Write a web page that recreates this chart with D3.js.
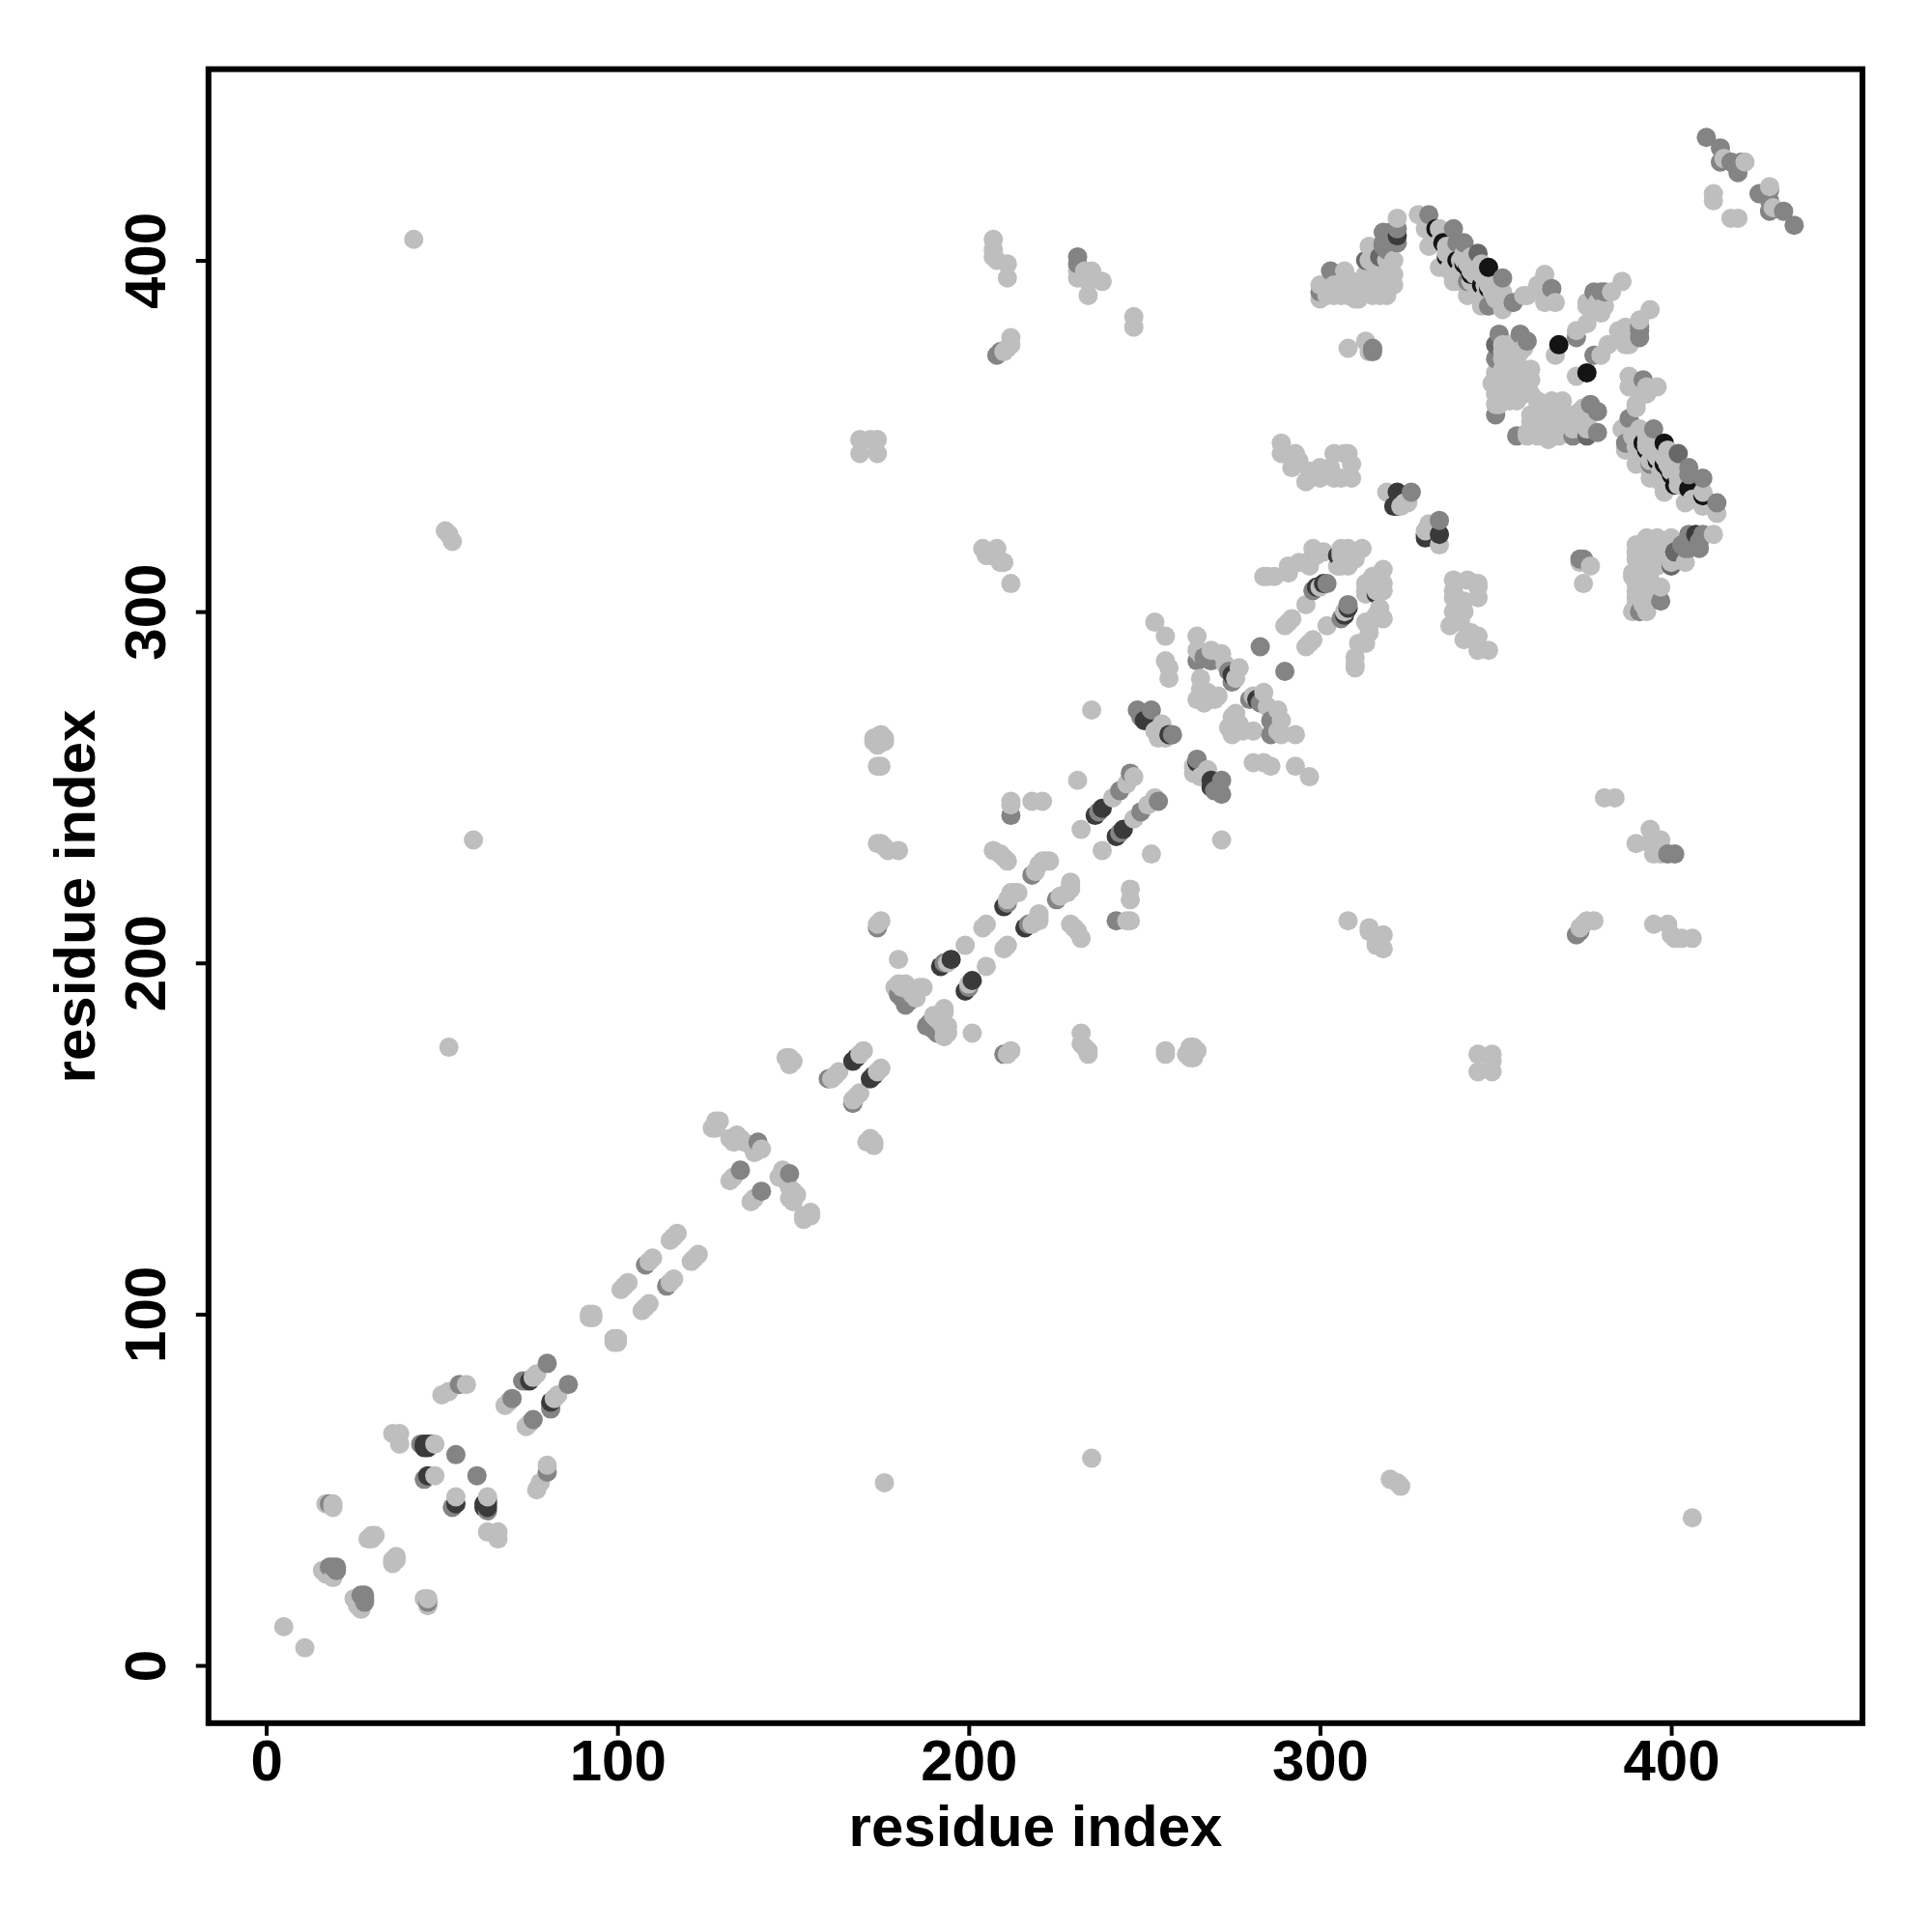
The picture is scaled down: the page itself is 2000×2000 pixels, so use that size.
<!DOCTYPE html>
<html><head><meta charset="utf-8">
<style>html,body{margin:0;padding:0;background:#fff}svg{display:block}text{font-family:"Liberation Sans",Arial,sans-serif;font-weight:700;fill:#000}</style>
<script src="https://cdn.jsdelivr.net/npm/d3@7"></script>
</head><body><svg id="c" width="2000" height="2000"></svg>
<script>
const tickLabels=[0,100,200,300,400];
const axisTitle="residue index";
const shadeNames=["light","mid","dim","dark","black"];
const shadeColors=["#bebebe","#848484","#686868","#3a3a3a","#141414"];
const lightPairs=[[5,11],[17,46],[19,46],[19,45],[29,36],[30,36],[30,37],[31,37],[16,27],[17,26],[18,26],[19,25],[17,27],[36,66],[38,66],[38,63],[48,63],[48,54],[50,77],[52,78],[57,80],[68,74],[69,75],[76,82],[77,83],[92,99],[93,99],[92,100],[93,100],[101,107],[102,108],[103,109],[109,115],[110,116],[115,121],[116,122],[117,123],
[127,153],[128,153],[128,155],[129,155],[128,154],[132,150],[133,149],[134,151],[135,150],[136,149],[138,148],[139,147],[141,147],[139,146],[132,138],[133,139],[148,173],[149,173],[150,172],[149,171],[169,174],[170,175],[161,167],[162,168],[163,169],[175,212],[174,211],[180,201],
[179,193],[180,194],[181,193],[182,194],[183,192],[185,192],[186,193],[187,193],[184,191],[185,190],[194,200],[199,205],[204,210],[205,211],[211,218],[212,219],[213,220],[214,220],[212,220],[219,226],[220,228],[221,229],[222,229],[223,229],
[218,246],[221,246],[212,245],[212,246],[231,252],[232,238],[235,272],[241,247],[245,251],[247,253],[253,266],[255,268],[256,264],[254,264],[255,265],[253,297],[256,293],[256,286],[257,284],[257,281],
[265,293],[265,289],[266,288],[269,289],[272,288],[273,285],[276,281],[277,284],[266,281],[266,278],[265,275],[267,274],[270,275],[268,277],[271,276],[290,296],[291,297],[292,298],[296,302],[300,307],
[284,310],[287,310],[291,311],[291,313],[294,314],[296,314],[297,313],[298,318],[299,316],[301,317],[285,310],[306,318],[306,316],[306,317],[308,318],[310,317],[312,318],[306,313],[308,313],[310,315],[305,313],
[319,334],[323,330],[325,331],[324,331],[308,375],[313,377],[314,374],
[322,412],[314,404],[314,400],[321,400],[321,396],[321,393],[317,396],[317,390],[313,392],[311,389],[310,389],[310,392],[307,397],[300,393],[300,389],[304,390],[306,390],[306,392],[304,393],[313,396],[309,394],[315,392],[319,390],[308,390],[302,390],
[302,392],[305,393],[307,391],[311,392],[312,390],[315,390],[315,395],[318,393],[319,395],[316,398],[320,398],[319,400],
[328,413],[330,409],[334,409],[334,405],[337,398],[340,397],[340,394],[341,402],[344,398],[345,391],[352,391],[352,386],[358,390],[359,390],[362,393],[364,396],[364,393],[364,389],[367,388],[364,388],[332,406],[336,404],[343,394],[349,391],[348,393],[341,394],[337,397],[336,402],[340,400],[341,400],[342,399],[343,397],[344,396],[347,393],[346,399],
[331,404],[334,398],[338,394],[342,390],[346,387],[337,404],[338,402],[343,401],[346,396],[348,395],[350,393],[347,390],[350,389],
[350,359],[351,359],[350,362],[352,360],[354,360],[356,360],[358,362],[360,362],[349,365],[351,365],[353,365],[355,365],[357,365],[359,365],[360,366],[350,368],[352,369],[354,368],[356,368],[358,368],[360,369],[352,372],[354,373],[356,373],[357,374],[352,376],[354,376],[358,375],[352,374],[354,362],[356,364],
[351,362],[353,362],[355,362],[357,362],[351,367],[353,367],[355,367],[357,367],[359,367],[352,364],[354,371],[356,371],
[367,373],[373,380],[376,382],[376,388],[376,387],[377,386],[379,386],[379,388],[383,391],[386,394],[381,387],[380,385],
[42,406],[51,323],[52,322],[53,320],[59,235],[52,176],[169,349],[172,349],[174,349],[169,345],[174,345],[173,264],[174,264],[176,264],[173,263],[174,262],[175,265],[176,263],[174,256],[175,256],[174,234],[175,234],[176,233],[177,232],[180,232],
[207,406],[207,403],[207,401],[208,400],[211,399],[211,395],[210,374],[211,375],[212,376],[212,378],[231,397],[231,395],[233,397],[234,394],[234,390],[238,394],[235,397],[247,384],[247,381],
[204,318],[208,318],[206,316],[209,314],[210,314],[212,308],[207,317],[205,316],[207,232],[209,231],[211,229],[210,230],
[289,348],[289,345],[293,345],[292,341],[297,340],[296,337],[300,341],[300,338],[304,338],[304,345],[308,345],[309,342],[309,338],[306,338],[303,341],[307,345],[294,343],
[412,417],[412,419],[415,429],[421,428]];
const midPairs=[[18,46],[18,28],[19,28],[20,28],[20,27],[44,63],[45,53],[54,60],[55,80],[73,81],[74,81],[80,86],[70,76],[108,114],[135,141],[140,149],[160,167],[174,210],[180,191],[181,190],[182,188],[183,189],[184,190],[193,200],[211,217],[218,225],[212,242],[208,373],[209,374],[231,401],[231,399],[237,243],[243,249],[246,254],[248,272],[249,270],[252,272],[258,265],[265,286],[267,287],[269,286],[274,283],[275,280],[283,290],[298,306],[302,308],[315,374],[315,375],[319,406],[319,403],[320,408],[322,409],[322,405],[318,408],[318,405],[318,404],[303,397],[300,391],[326,334],[331,413],[338,409],[339,405],[341,405],[342,394],[352,395],[366,392],[355,388],[348,387],[350,356],[350,372],[351,379],[357,379],[359,377],[373,378],[378,391],[380,391],[381,391],[410,435],[414,432],[414,428],[417,428],[419,425],[420,428]];
const dimPairs=[[313,400],[317,401],[345,402],[350,376]];
const darkPairs=[[45,63],[46,63],[47,63],[45,62],[46,62],[46,54],[75,81],[167,172],[168,173],[192,199],[195,201],[210,216],[236,242],[238,244],[250,269],[252,269],[257,265],[275,282],[299,307],[301,308],[321,330],[322,330],[322,334],[305,316],[322,407]];
const blackPairs=[[333,409],[335,405],[336,401],[339,400],[341,399],[342,398],[343,396],[346,393],[348,392],[348,398],[368,376]];
const pairGroups=[lightPairs,midPairs,dimPairs,darkPairs,blackPairs];

const W=2000,H=2000,frame={l:215.8,r:1928,t:71.6,b:1783.8};
const x=d3.scaleLinear().domain([-16.44,454.44]).range([frame.l,frame.r]);
const y=d3.scaleLinear().domain([-16.44,454.44]).range([frame.b,frame.t]);
const color=d3.scaleOrdinal().domain(shadeNames).range(shadeColors);
const rows=[];
pairGroups.forEach((g,k)=>g.forEach(([a,b])=>{rows.push({x:a,y:b,s:shadeNames[k]});rows.push({x:b,y:a,s:shadeNames[k]});}));
rows.sort((p,q)=>d3.ascending(p.x,q.x)||d3.ascending(p.y,q.y));
const svg=d3.select("#c");
svg.append("rect").attr("width",W).attr("height",H).attr("fill","#fff");
svg.append("g").selectAll("circle").data(rows).join("circle")
 .attr("cx",d=>x(d.x)).attr("cy",d=>y(d.y)).attr("r",10).attr("fill",d=>color(d.s));
svg.append("rect").attr("x",frame.l).attr("y",frame.t).attr("width",frame.r-frame.l).attr("height",frame.b-frame.t)
 .attr("fill","none").attr("stroke","#000").attr("stroke-width",6);
const ax=svg.append("g").attr("transform",`translate(0,${frame.b})`)
 .call(d3.axisBottom(x).tickValues(tickLabels).tickSize(13).tickFormat(d3.format("d")));
const ay=svg.append("g").attr("transform",`translate(${frame.l},0)`)
 .call(d3.axisLeft(y).tickValues(tickLabels).tickSize(13).tickFormat(d3.format("d")));
[ax,ay].forEach(g=>{g.select(".domain").remove();g.selectAll("line").attr("stroke","#000").attr("stroke-width",4);});
ax.selectAll("text").attr("y",0).attr("dy",0).attr("transform","translate(0,59)").attr("text-anchor","middle").style("font-size","60px").style("font-family",'"Liberation Sans"').style("font-weight",700);
ay.selectAll("text").attr("x",0).attr("dy",0).attr("transform","translate(-45,0) rotate(-90)").attr("text-anchor","middle").style("font-size","60px").style("font-family",'"Liberation Sans"').style("font-weight",700);
svg.append("text").attr("x",1072).attr("y",1911).attr("text-anchor","middle").style("font-size","60px").text(axisTitle);
svg.append("text").attr("transform","translate(98,928) rotate(-90)").attr("text-anchor","middle").style("font-size","60px").text(axisTitle);
</script></body></html>
